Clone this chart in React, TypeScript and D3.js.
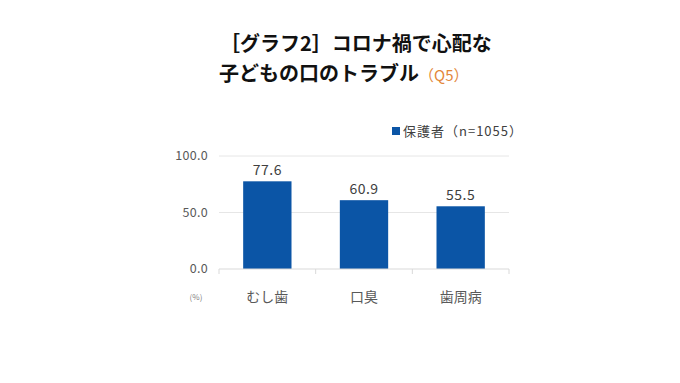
import React from "react";
import * as d3 from "d3";

const categories = ["むし歯", "口臭", "歯周病"];
const values = [77.6, 60.9, 55.5];
const yTicks = [0, 50, 100];
const seriesName = "保護者（n=1055）";

const W = 680, H = 383;
const plot = { left: 219, right: 509, top: 156, bottom: 269 };
const font = "'Noto Sans CJK JP', 'Noto Sans', sans-serif";
const barColor = "#0B55A6";

export default function App() {
  const x = d3.scaleBand<string>().domain(categories).range([plot.left, plot.right]).paddingInner(0.5).paddingOuter(0.25);
  const y = d3.scaleLinear().domain([0, 100]).range([plot.bottom, plot.top]);
  const step = x.step();
  const tickXs = [plot.left, ...categories.map((c) => (x(c) as number) + x.bandwidth() / 2 + step / 2)];
  return (
    <svg width={W} height={H} style={{ position: "absolute", left: 0, top: 0, background: "#fff" }}>
      <text x={220} y={51} fontFamily={font} fontSize={20} fontWeight={700} fill="#111">［グラフ2］コロナ禍で心配な</text>
      <text x={219} y={81} fontFamily={font} fontSize={20} fontWeight={700} fill="#111">
        子どもの口のトラブル
        <tspan fontSize={15} fontWeight={400} fill="#E3873A" dx={0}>（Q5）</tspan>
      </text>
      {yTicks.filter((t) => t > 0).map((t) => (
        <line key={t} x1={plot.left} x2={plot.right} y1={y(t)} y2={y(t)} stroke="#E6E6E6" strokeWidth={1} />
      ))}
      {yTicks.map((t) => (
        <text key={"l" + t} x={208} y={y(t)} dy="0.35em" textAnchor="end" fontFamily={font} fontSize={12.5} letterSpacing={0.3} fill="#595959">{t.toFixed(1)}</text>
      ))}
      {categories.map((c, i) => (
        <g key={c}>
          <rect x={x(c)} y={y(values[i])} width={x.bandwidth()} height={y(0) - y(values[i])} fill={barColor} />
          <text x={(x(c) as number) + x.bandwidth() / 2} y={y(values[i]) - 6} textAnchor="middle" fontFamily={font} fontSize={14} letterSpacing={0.5} fill="#404040">{values[i].toFixed(1)}</text>
          <text x={(x(c) as number) + x.bandwidth() / 2} y={302} textAnchor="middle" fontFamily={font} fontSize={14} fill="#595959">{c}</text>
        </g>
      ))}
      <line x1={plot.left} x2={plot.right} y1={plot.bottom} y2={plot.bottom} stroke="#D9D9D9" strokeWidth={1} />
      {tickXs.map((tx, i) => (
        <line key={"t" + i} x1={tx} x2={tx} y1={plot.bottom} y2={plot.bottom + 5} stroke="#D9D9D9" strokeWidth={1} />
      ))}
      <text x={196} y={300} textAnchor="middle" fontFamily={font} fontSize={8} fill="#7F7F7F">(%)</text>
      <rect x={392} y={127} width={8} height={8} fill={barColor} />
      <text x={403} y={131} dy="0.35em" fontFamily={font} fontSize={13} letterSpacing={1} fill="#404040">{seriesName}</text>
    </svg>
  );
}
